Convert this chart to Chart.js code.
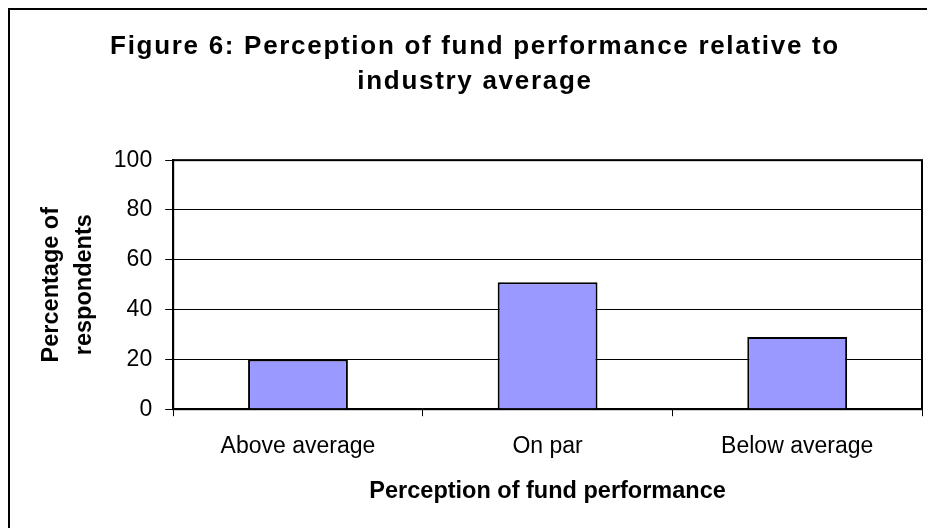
<!DOCTYPE html>
<html lang="en">

<head>
    <meta charset="UTF-8" />
    <title>Figure 6</title>
    <script src="https://cdn.jsdelivr.net/npm/chart.js@4"></script>
    <style>
        body {
            margin: 0;
            background: #ffffff;
            overflow: hidden;
        }

        .frame {
            position: absolute;
            left: 8px;
            top: 8px;
            width: 1000px;
            height: 1000px;
            border-left: 2px solid #000;
            border-top: 2px solid #000;
        }

        .box {
            position: absolute;
            left: 0;
            top: 0;
            width: 927px;
            height: 528px;
        }
    </style>
</head>

<body>
    <div class="frame"></div>
    <div class="box">
        <canvas id="perceptionChart"></canvas>
    </div>

    <script>
        const categories = ["Above average", "On par", "Below average"];
        const percentages = [20, 51, 29];
        const yMin = 0;
        const yMax = 100;
        const yStep = 20;

        Chart.defaults.font.family = "'Liberation Sans', Arial, sans-serif";
        Chart.defaults.color = "#000";

        // the title in the picture is letter-spaced and sits a bit right of centre
        const spacedTitle = {
            id: "spacedTitle",
            afterInit(chart) {
                const title = chart.titleBlock;
                const draw = title.draw.bind(title);
                title.draw = function (area) {
                    chart.ctx.save();
                    chart.ctx.translate(14, 0);
                    chart.ctx.letterSpacing = "1.7px";
                    draw(area);
                    chart.ctx.restore();
                    chart.ctx.letterSpacing = "0px";
                };
            }
        };

        // black outline round the plot area
        const plotFrame = {
            id: "plotFrame",
            afterDatasetsDraw(chart) {
                const { ctx, chartArea } = chart;
                ctx.save();
                ctx.strokeStyle = "#000";
                ctx.lineWidth = 2;
                ctx.strokeRect(chartArea.left, chartArea.top, chartArea.right - chartArea.left, chartArea.bottom - chartArea.top);
                ctx.restore();
            }
        };

        const ctx = document.getElementById("perceptionChart").getContext("2d");
        const chart = new Chart(ctx, {
            type: "bar",
            data: {
                labels: categories,
                datasets: [{
                    label: "Percentage of respondents",
                    data: percentages,
                    backgroundColor: "#9999ff",
                    borderColor: "#000",
                    borderWidth: 2,
                    barPercentage: 0.4,
                    categoryPercentage: 1.0
                }]
            },
            options: {
                responsive: true,
                maintainAspectRatio: false,
                animation: false,
                layout: {
                    padding: { left: 0, right: 5, top: 0, bottom: 0 }
                },
                plugins: {
                    legend: { display: false },
                    tooltip: { enabled: false },
                    title: {
                        display: true,
                        text: ["Figure 6: Perception of fund performance relative to", "industry average"],
                        color: "#000",
                        font: { size: 26, weight: "bold", lineHeight: 1.33 },
                        padding: { top: 30, bottom: 61 }
                    }
                },
                scales: {
                    x: {
                        grid: {
                            drawOnChartArea: false,
                            color: "#000",
                            tickLength: 7,
                            offset: true
                        },
                        border: { color: "#000", width: 2 },
                        ticks: {
                            font: { size: 23 },
                            padding: 17,
                            maxRotation: 0
                        },
                        title: {
                            display: true,
                            text: "Perception of fund performance",
                            font: { size: 23.5, weight: "bold" },
                            padding: { top: 0, bottom: 22 }
                        }
                    },
                    y: {
                        min: yMin,
                        max: yMax,
                        grid: { color: "#000", tickLength: 8 },
                        border: { color: "#000", width: 2 },
                        ticks: {
                            stepSize: yStep,
                            font: { size: 23 },
                            padding: 13
                        },
                        title: {
                            display: true,
                            text: ["Percentage of", "respondents"],
                            font: { size: 23.5, weight: "bold", lineHeight: 1.4 },
                            padding: { top: 35, bottom: 0 }
                        }
                    }
                }
            },
            plugins: [spacedTitle, plotFrame]
        });
    </script>
</body>

</html>
